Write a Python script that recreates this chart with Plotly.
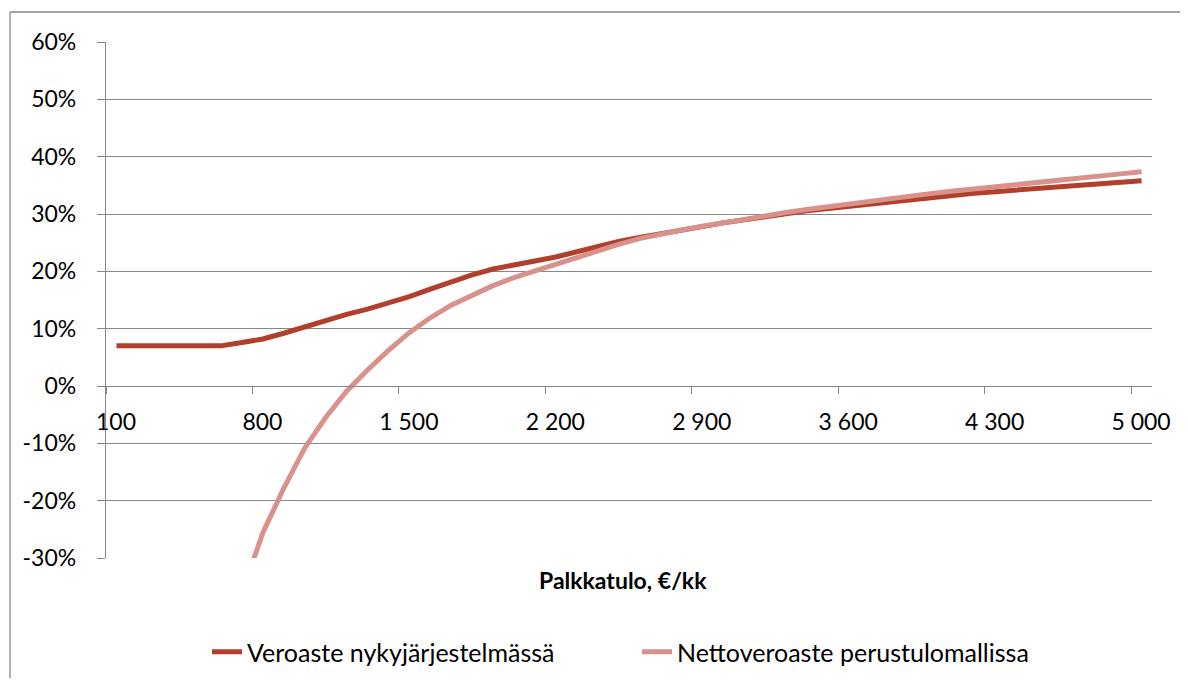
import plotly.graph_objects as go

# Categories: monthly wage income (€/kk)
wages = [100, 200, 300, 400, 500, 600, 700, 800, 900, 1000,
         1100, 1200, 1300, 1400, 1500, 1600, 1700, 1800, 1900, 2000,
         2100, 2200, 2300, 2400, 2500, 2600, 2700, 2800, 2900, 3000,
         3100, 3200, 3300, 3400, 3500, 3600, 3700, 3800, 3900, 4000,
         4100, 4200, 4300, 4400, 4500, 4600, 4700, 4800, 4900, 5000]

# Tax rate in current system (%)
veroaste_nyky = [7.0, 7.0, 7.0, 7.0, 7.0, 7.0, 7.6, 8.2, 9.2, 10.3,
                 11.5, 12.5, 13.4, 14.4, 15.6, 16.9, 18.2, 19.4, 20.4, 21.2,
                 21.8, 22.5, 23.4, 24.4, 25.2, 25.9, 26.6, 27.2, 27.8, 28.45,
                 29.05, 29.6, 30.05, 30.55, 30.95, 31.35, 31.8, 32.2, 32.55, 32.9,
                 33.25, 33.6, 33.9, 34.2, 34.5, 34.8, 35.05, 35.3, 35.55, 35.8]

# Net tax rate in basic income model (%)
nettoveroaste_perustulo = [None, None, None, None, None, None, -36.0, -25.6, -17.8, -10.8,
                           -5.5, -0.9, 2.8, 6.2, 9.3, 11.9, 14.1, 15.9, 17.5, 18.9,
                           20.1, 21.3, 22.4, 23.5, 24.7, 25.7, 26.5, 27.2, 27.85, 28.5,
                           29.1, 29.7, 30.25, 30.8, 31.3, 31.8, 32.3, 32.75, 33.2, 33.6,
                           34.0, 34.4, 34.8, 35.2, 35.6, 35.95, 36.3, 36.65, 37.0, 37.35]

tick_wages = [50, 750, 1450, 2150, 2850, 3550, 4250, 4950]
tick_labels = ["100", "800", "1 500", "2 200", "2 900", "3 600", "4 300", "5 000"]
y_ticks = [-30, -20, -10, 0, 10, 20, 30, 40, 50, 60]
y_tick_labels = ["-30%", "-20%", "-10%", "0%", "10%", "20%", "30%", "40%", "50%", "60%"]

series_names = ["Veroaste nykyjärjestelmässä", "Nettoveroaste perustulomallissa"]
x_title = "Palkkatulo, €/kk"

GRID = "#878787"
DARK = "#B23F2B"
PINK = "#D9918B"
FONT = "Lato"

fig = go.Figure()
fig.add_trace(go.Scatter(x=wages, y=veroaste_nyky, mode="lines", name=series_names[0],
                         line=dict(color=DARK, width=5)))
fig.add_trace(go.Scatter(x=wages, y=nettoveroaste_perustulo, mode="lines", name=series_names[1],
                         line=dict(color=PINK, width=5)))

# page shows the figure offset by 8px (body margin) -> work in figure coords,
# and keep the figure small enough that the page does not overflow
OFF = 8
W, H = 1172, 670
L, T = 106 - OFF, 42 - OFF
pw, ph = 1046, 516
R, B = W - L - pw, H - T - ph


def px_to_paper_x(sx):
    return (sx - OFF - L) / pw


def px_to_paper_y(sy):
    return (T + ph - (sy - OFF)) / ph


fig.update_layout(
    width=W, height=H, autosize=False,
    margin=dict(l=L, r=R, t=T, b=B, autoexpand=False),
    paper_bgcolor="white", plot_bgcolor="white",
    font=dict(family=FONT, size=23, color="black"),
    showlegend=True,
    legend=dict(orientation="h", xanchor="left", yanchor="middle",
                xref="paper", yref="container",
                x=px_to_paper_x(207), y=(H - (652 - OFF)) / H,
                entrywidth=385, entrywidthmode="pixels",
                font=dict(family=FONT, size=25, color="black"),
                bgcolor="rgba(0,0,0,0)"),
    xaxis=dict(range=[50, 5050], tickmode="array", tickvals=tick_wages, ticktext=tick_labels,
               showgrid=False, zeroline=False, showline=True, linecolor=GRID, linewidth=1.3,
               ticks="outside", ticklen=7, tickcolor=GRID, tickwidth=1.3,
               ticklabelshift=10, ticklabelstandoff=8,
               anchor="free", position=1/3, fixedrange=True,
               tickfont=dict(family=FONT, size=23, color="black")),
    yaxis=dict(range=[-30, 60], tickmode="array", tickvals=y_ticks, ticktext=y_tick_labels,
               showgrid=True, gridcolor=GRID, gridwidth=1.3, zeroline=False,
               showline=True, linecolor=GRID, linewidth=1.3,
               ticks="outside", ticklen=8, tickcolor=GRID, tickwidth=1.3,
               ticklabelstandoff=16, fixedrange=True,
               tickfont=dict(family=FONT, size=23, color="black")),
)

fig.add_annotation(text="<b>" + x_title + "</b>", xref="paper", yref="paper",
                   x=px_to_paper_x(623), y=px_to_paper_y(580), showarrow=False,
                   xanchor="center", yanchor="middle",
                   font=dict(family=FONT, size=23, color="black"))

# outer chart border: only top and left edges are visible in the reference
bx0, by0 = px_to_paper_x(10), px_to_paper_y(12)
fig.add_shape(type="line", xref="paper", yref="paper", x0=bx0, x1=1.5, y0=by0, y1=by0,
              line=dict(color=GRID, width=1.3), layer="below")
fig.add_shape(type="line", xref="paper", yref="paper", x0=bx0, x1=bx0, y0=by0, y1=-1.0,
              line=dict(color=GRID, width=1.3), layer="below")

fig.write_html("out.html")
